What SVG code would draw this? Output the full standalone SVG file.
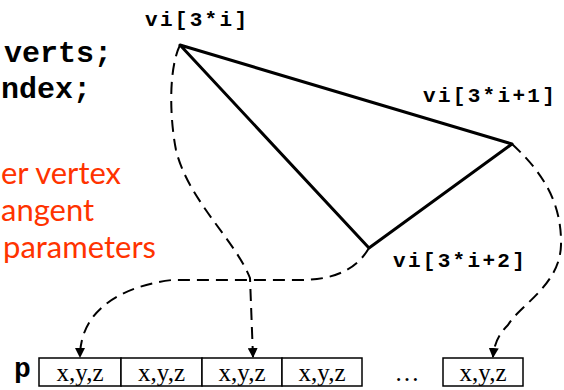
<svg xmlns="http://www.w3.org/2000/svg" width="564" height="390" viewBox="0 0 564 390">
<style>
.mono{font-family:"Liberation Mono","Courier New",monospace;font-weight:bold;fill:#000}
.lbl{font-size:21px;letter-spacing:2.3px}
.big{font-size:30px}
.red{font-family:"Lato","Open Sans",sans-serif;font-size:31px;fill:#ff3300}
.tri{fill:none;stroke:#000;stroke-width:3;stroke-linejoin:round}
.dash{fill:none;stroke:#000;stroke-width:2;stroke-dasharray:12 7}
.box{fill:#fff;stroke:#000;stroke-width:1.5}
.cell{font-family:"Liberation Serif","Times New Roman",serif;font-size:25px;fill:#000;text-anchor:middle}
</style>
<defs>
<marker id="ah" viewBox="0 0 10 10" refX="9" refY="5" markerWidth="5" markerHeight="5" orient="auto" markerUnits="strokeWidth">
<path d="M0,0 L10,5 L0,10 z" fill="#000"/>
</marker>
</defs>
<g id="code-text">
<text class="mono big" x="4" y="62">verts;</text>
<text class="mono big" x="1" y="98">ndex;</text>
</g>
<g id="red-text">
<text class="red" x="1" y="184">er vertex</text>
<text class="red" x="1" y="221">angent</text>
<text class="red" x="3" y="258">parameters</text>
</g>
<g id="triangle">
<polygon class="tri" points="180,45 512,144 369,248"/>
</g>
<g id="labels">
<text class="mono lbl" x="145" y="26">vi[3*i]</text>
<text class="mono lbl" x="423" y="102">vi[3*i+1]</text>
<text class="mono lbl" x="393" y="267">vi[3*i+2]</text>
</g>
<g id="connectors">
<path class="dash" marker-end="url(#ah)" d="M180,45 C168,70 170,120 176,150 C188,200 235,240 250,278 L253,357"/>
<path class="dash" marker-end="url(#ah)" d="M369,248 C355,272 330,280 300,280 L172,280 C130,285 80,305 80,357"/>
<path class="dash" marker-end="url(#ah)" d="M512,144 C540,170 562,200 561,245 C560,285 520,305 508,325 C498,335 494,345 493,357"/>
</g>
<g id="array">
<text class="mono" style="font-size:28px" x="14" y="377">p</text>
<rect class="box" x="39" y="358" width="82" height="28"/>
<rect class="box" x="121" y="358" width="81" height="28"/>
<rect class="box" x="202" y="358" width="80" height="28"/>
<rect class="box" x="282" y="358" width="80" height="28"/>
<rect class="box" x="443" y="358" width="80" height="28"/>
<text class="cell" x="80" y="381">x,y,z</text>
<text class="cell" x="161.5" y="381">x,y,z</text>
<text class="cell" x="242" y="381">x,y,z</text>
<text class="cell" x="322" y="381">x,y,z</text>
<text class="cell" x="407" y="381">…</text>
<text class="cell" x="483" y="381">x,y,z</text>
</g>
</svg>
